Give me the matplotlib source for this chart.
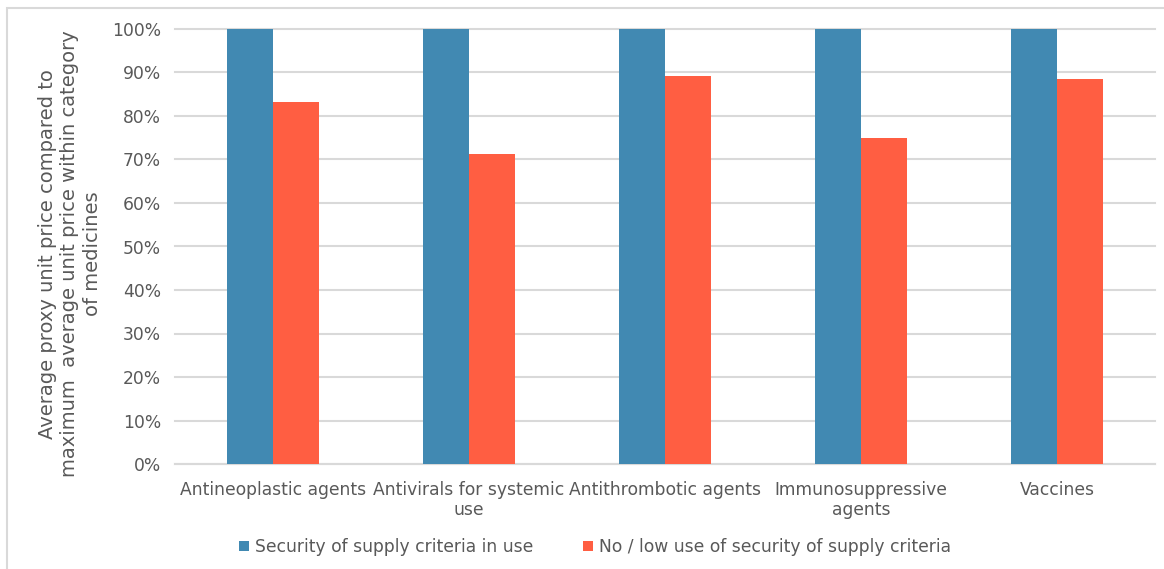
import matplotlib
matplotlib.use("Agg")
import matplotlib.pyplot as plt
from matplotlib.patches import Rectangle
from matplotlib.ticker import PercentFormatter
import numpy as np

categories = ["Antineoplastic agents", "Antivirals for systemic\nuse",
              "Antithrombotic agents", "Immunosuppressive\nagents", "Vaccines"]
security_in_use = [100, 100, 100, 100, 100]
no_low_use = [83.2, 71.3, 89.2, 74.9, 88.5]
series_names = ["Security of supply criteria in use",
                "No / low use of security of supply criteria"]

BLUE = "#4189B2"
ORANGE = "#FF5E42"
TEXT = "#595959"
GRID = "#D9D9D9"
FS = 12.3

plt.rcParams["font.family"] = "DejaVu Sans"
fig = plt.figure(figsize=(11.64, 5.69), dpi=100)
ax = fig.add_axes([175 / 1164, 1 - 464 / 569, 980 / 1164, 435 / 569])

# outer chart frame (runs off the right and bottom edges)
fig.patches.append(Rectangle((7 / 1164, -0.05), 1.2, 1 - 8 / 569 + 0.05,
                             transform=fig.transFigure, fill=False,
                             edgecolor=GRID, linewidth=1.5, zorder=0))

x = np.arange(len(categories))
w = 0.235
ax.bar(x - w / 2, security_in_use, w, color=BLUE, label=series_names[0], zorder=3)
ax.bar(x + w / 2, no_low_use, w, color=ORANGE, label=series_names[1], zorder=3)

ax.set_xlim(-0.5, len(categories) - 0.5)
ax.set_ylim(0, 100)
ax.set_yticks(np.arange(0, 101, 10))
ax.yaxis.set_major_formatter(PercentFormatter(decimals=0))
ax.grid(True, axis="y", color=GRID, linewidth=1.5, zorder=0)
for gl in ax.get_ygridlines():
    gl.set_clip_on(False)
for s in ["top", "right", "left"]:
    ax.spines[s].set_visible(False)
ax.spines["bottom"].set_color(GRID)
ax.spines["bottom"].set_linewidth(1.5)
ax.tick_params(axis="both", length=0, colors=TEXT, labelsize=FS)
ax.tick_params(axis="y", pad=10)
ax.tick_params(axis="x", pad=12)
ax.set_xticks(x)
ax.set_xticklabels(categories)

ax.set_ylabel("Average proxy unit price compared to\nmaximum  average unit price within category\nof medicines",
              color=TEXT, fontsize=14, va="center", linespacing=1.25)
ax.yaxis.set_label_coords((70 - 175) / 980, (464 - 254) / 435)

ax.legend(loc="center", bbox_to_anchor=((595 - 175) / 980, (464 - 547) / 435), ncol=2,
          frameon=False, fontsize=FS, labelcolor=TEXT, handlelength=0.6, handleheight=0.6,
          handletextpad=0.35, columnspacing=2.9)

fig.savefig("out.png", dpi=100)
